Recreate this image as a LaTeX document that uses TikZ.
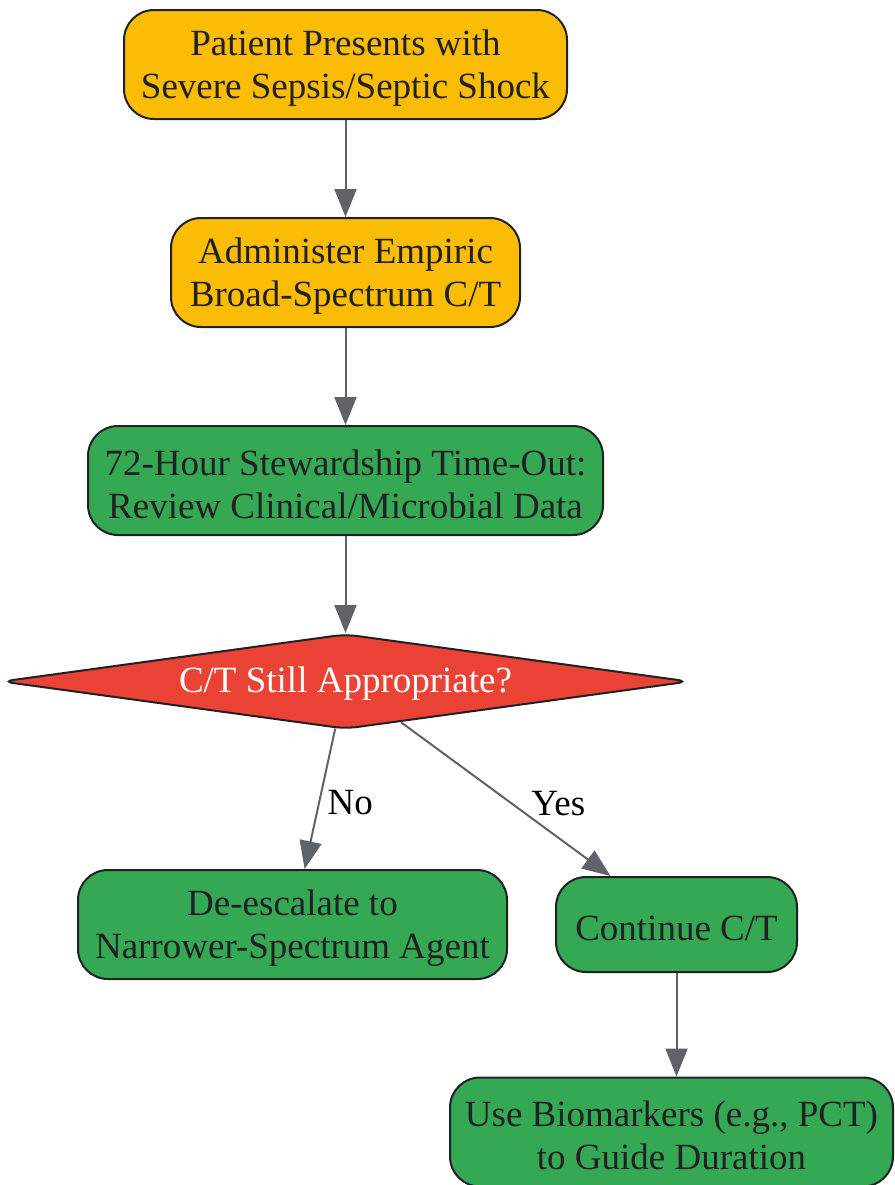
\documentclass[tikz,border=0pt]{standalone}
\usepackage{fontspec}
\setmainfont{Liberation Serif}
\usetikzlibrary{shapes.geometric,arrows.meta}
\definecolor{sepsisyellow}{HTML}{FBBC05}
\definecolor{stewgreen}{HTML}{34A853}
\definecolor{checkred}{HTML}{EA4335}
\definecolor{edgegray}{HTML}{5F6368}
\definecolor{inkdark}{HTML}{202124}

\begin{document}
\begin{tikzpicture}[x=0.5pt,y=-0.5pt,
  box/.style={draw=inkdark, line width=1pt, rounded corners=15pt, align=flush center,
    text=inkdark, font=\fontsize{18.5}{21.5}\selectfont, minimum height=54.5pt, inner sep=0pt,
    execute at begin node={\rule{0pt}{16.5pt}}},
  yellowbox/.style={box, fill=sepsisyellow},
  greenbox/.style={box, fill=stewgreen},
  decision/.style={diamond, aspect=7.2, draw=inkdark, line width=1pt, rounded corners=6pt,
    fill=checkred, text=white, font=\fontsize{18.5}{21.5}\selectfont,
    minimum width=344pt, minimum height=47.5pt, inner sep=0pt, text depth=2pt},
  flow/.style={draw=edgegray, line width=1pt, -{Triangle[length=14pt,width=11pt]}},
  flowlabel/.style={font=\fontsize{18.5}{21.5}\selectfont, text=black, yshift=-2pt}]
  \clip (0,0) rectangle (895,1185);

  % main line
  \node[yellowbox, text width=221.5pt] (patient) at (345.5,64.5) {Patient Presents with\\Severe Sepsis/Septic Shock};
  \node[yellowbox, text width=174.5pt] (administer) at (345.5,272.5) {Administer Empiric\\Broad-Spectrum C/T};
  \node[greenbox, text width=257.5pt] (timeout) at (345.5,480.5) {72-Hour Stewardship Time-Out:\\Review Clinical/Microbial Data};
  \node[decision] (decide) at (345.5,681.5) {C/T Still Appropriate?};

  % outcomes
  \node[greenbox, text width=214.5pt] (deesc) at (292.5,924.5) {De-escalate to\\Narrower-Spectrum Agent};
  \node[greenbox, text width=120.5pt, minimum height=47.5pt] (cont) at (676.5,924.5) {Continue C/T};
  \node[greenbox, text width=221.5pt] (bio) at (671.5,1132) {Use Biomarkers (e.g., PCT)\\to Guide Duration};

  \draw[flow] (patient) -- (administer);
  \draw[flow] (administer) -- (timeout);
  \draw[flow] (timeout) -- (decide);
  \draw[flow] (decide) -- node[flowlabel, right, pos=0.5] {No} (deesc);
  \draw[flow] (decide) -- node[flowlabel, right=9pt, pos=0.5] {Yes} (cont);
  \draw[flow] (cont) -- (cont |- bio.north);
\end{tikzpicture}
\end{document}
